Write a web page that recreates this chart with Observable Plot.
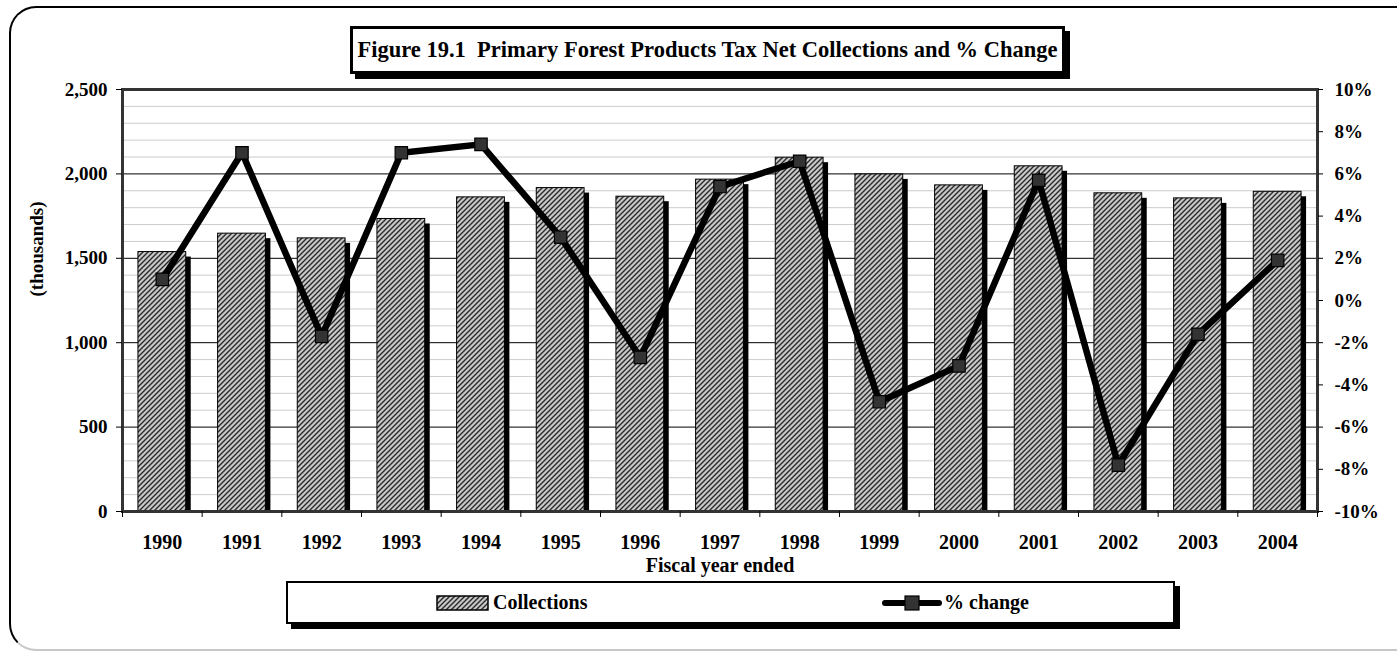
<!DOCTYPE html>
<html>
<head>
<meta charset="utf-8">
<script src="https://cdn.jsdelivr.net/npm/d3@7"></script>
<script src="https://cdn.jsdelivr.net/npm/@observablehq/plot@0.6"></script>
<style>
  html, body { margin: 0; padding: 0; background: #fff; overflow: hidden; }
  #page { position: relative; width: 1397px; height: 652px; overflow: hidden;
          font-family: "Liberation Serif", "Times New Roman", serif; font-weight: bold; color: #000; }
  #outer { position: absolute; left: 9px; top: 6px; width: 1420px; height: 641px;
           border: 2px solid #000; border-bottom-color: #c8c8c8; border-radius: 27px; }
  #chart { position: absolute; left: 0; top: 0; }
  #title { position: absolute; left: 350px; top: 26px; width: 709px; height: 42px;
           border: 3px solid #000; background: #fff; box-shadow: 5px 5px 0 #000;
           font-size: 22.5px; line-height: 42px; text-align: center; white-space: nowrap; }
  #legend { position: absolute; left: 286px; top: 581px; width: 885px; height: 39px;
            border: 2px solid #000; background: #fff; box-shadow: 5px 5px 0 #000; font-size: 20px; }
  .item { position: absolute; top: 0; height: 39px; display: flex; align-items: center; }
  .item svg { display: block; }
</style>
</head>
<body>
<div id="page">
  <div id="outer"></div>
  <div id="chart"></div>
  <div id="title">Figure 19.1&nbsp; Primary Forest Products Tax Net Collections and % Change</div>
  <div id="legend">
    <div class="item" style="left:148px">
      <svg width="53" height="16"><rect x="1" y="1" width="51" height="14" fill="url(#hatch)" stroke="#000" stroke-width="1.5"/></svg>
      <span style="margin-left:4px">Collections</span>
    </div>
    <div class="item" style="left:594px">
      <svg width="60" height="18">
        <line x1="3" y1="9" x2="57" y2="9" stroke="#000" stroke-width="6" stroke-linecap="round"/>
        <rect x="23" y="2" width="14" height="14" fill="#333" stroke="#000" stroke-width="1.2"/>
      </svg>
      <span style="margin-left:2px">% change</span>
    </div>
  </div>
</div>
<script>
// Fiscal years and series
const years = ["1990", "1991", "1992", "1993", "1994", "1995", "1996", "1997",
               "1998", "1999", "2000", "2001", "2002", "2003", "2004"];
// Net collections, thousands of dollars
const collections = [1537, 1646, 1618, 1733, 1861, 1916, 1865, 1966,
                     2096, 1997, 1932, 2045, 1885, 1855, 1894];
// Year-over-year change, percent
const pctChange = [1.0, 7.0, -1.7, 7.0, 7.4, 3.0, -2.7, 5.4,
                   6.6, -4.8, -3.1, 5.7, -7.8, -1.6, 1.9];
// Axis ticks
const leftTicks = [0, 500, 1000, 1500, 2000, 2500];
const rightTicks = [-10, -8, -6, -4, -2, 0, 2, 4, 6, 8, 10];
const minorStep = 100;

const yMax = leftTicks[leftTicks.length - 1];
const pMin = rightTicks[0], pMax = rightTicks[rightTicks.length - 1];
// Map the percent axis onto the collections axis (shared y scale)
const toY = p => (p - pMin) / (pMax - pMin) * yMax;
const fromY = v => v / yMax * (pMax - pMin) + pMin;

const rows = years.map((year, i) => ({year, i, value: collections[i], pct: pctChange[i]}));
const centers = years.map((_, i) => i + 0.5);
const boundaries = d3.range(years.length + 1);
const majorGrid = leftTicks.slice(1, -1);
const minorGrid = d3.range(minorStep, yMax, minorStep).filter(v => v % 500 !== 0);

const chart = Plot.plot({
  width: 1397,
  height: 652,
  marginLeft: 122,
  marginRight: 80,
  marginTop: 89,
  marginBottom: 141,
  style: {
    fontFamily: "'Liberation Serif', 'Times New Roman', serif",
    fontWeight: "bold",
    fontSize: "19px",
    color: "#000",
    background: "transparent",
    overflow: "visible"
  },
  x: {type: "linear", domain: [0, years.length], axis: null},
  y: {domain: [0, yMax], axis: null},
  marks: [
    Plot.ruleY(minorGrid, {stroke: "#cccccc", strokeWidth: 1}),
    Plot.ruleY(majorGrid, {stroke: "#000", strokeWidth: 1}),
    // drop shadows
    Plot.rectY(rows, {x1: d => d.i + 0.2, x2: d => d.i + 0.8, y: "value", fill: "#000", dx: 5, insetTop: 5}),
    // hatched collection bars
    Plot.rectY(rows, {x1: d => d.i + 0.2, x2: d => d.i + 0.8, y: "value", fill: "url(#hatch)", stroke: "#000", strokeWidth: 1}),
    // % change line with square markers
    Plot.line(rows, {x: d => d.i + 0.5, y: d => toY(d.pct), stroke: "#000", strokeWidth: 6.5, strokeLinejoin: "miter", strokeMiterlimit: 4}),
    Plot.dot(rows, {x: d => d.i + 0.5, y: d => toY(d.pct), symbol: "square", r: 7, fill: "#333", stroke: "#000", strokeWidth: 1.2}),
    Plot.frame({stroke: "#333", strokeWidth: 3}),
    // left axis
    Plot.axisY(leftTicks, {anchor: "left", tickFormat: d3.format(","), tickSize: 6, tickPadding: 9, fontSize: 19, label: null}),
    // right axis (percent)
    Plot.axisY(rightTicks.map(toY), {anchor: "right", tickFormat: d => `${Math.round(fromY(d))}%`, tickSize: 5, tickPadding: 12, fontSize: 19, label: null}),
    // category boundary ticks and year labels
    Plot.axisX(boundaries, {tickSize: 6, tickFormat: () => "", label: null}),
    Plot.axisX(centers, {tickSize: 0, tickPadding: 23, tickFormat: d => years[Math.floor(d)], fontSize: 20, label: null}),
    Plot.text(["(thousands)"], {frameAnchor: "left", dx: -86, dy: -4, rotate: -90, fontSize: 19}),
    Plot.text(["Fiscal year ended"], {frameAnchor: "bottom", dy: 60, fontSize: 20})
  ]
});

// hatch pattern used by the bars and the legend swatch
const ns = "http://www.w3.org/2000/svg";
const defs = document.createElementNS(ns, "defs");
defs.innerHTML = `
  <pattern id="hatch" patternUnits="userSpaceOnUse" width="5" height="5">
    <rect width="5" height="5" fill="#c8c8c8"/>
    <path d="M-1,1 L1,-1 M0,5 L5,0 M4,6 L6,4" stroke="#2a2a2a" stroke-width="1.4"/>
  </pattern>`;
chart.insertBefore(defs, chart.firstChild);

document.getElementById("chart").appendChild(chart);
</script>
</body>
</html>
